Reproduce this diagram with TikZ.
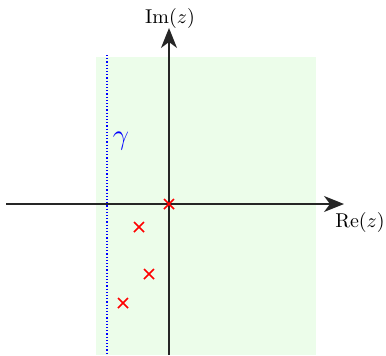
\documentclass[tikz,border=0pt]{standalone}
\usetikzlibrary{arrows.meta,calc}
\definecolor{regiongreen}{RGB}{236,253,234}
\tikzset{
  axis/.style={line width=0.7pt, draw=black!85, -{Stealth[length=10pt,width=8pt,inset=3pt]}},
  pole/.style={red, line width=0.8pt},
  contour/.style={blue, densely dotted, line width=0.6pt}
}
\newcommand{\polemark}[1]{\draw[pole] ($(#1)+(-5,-5)$) -- ($(#1)+(5,5)$) ($(#1)+(-5,5)$) -- ($(#1)+(5,-5)$);}
\begin{document}
\begin{tikzpicture}[x=0.5pt,y=-0.5pt]
\useasboundingbox (0,0) rectangle (386,355);
\fill[regiongreen] (96,57) rectangle (316,355);
\coordinate (xl) at (6,204);
\coordinate (xr) at (344,204);
\coordinate (yb) at (169,355);
\coordinate (yt) at (169,28);
\coordinate (gt) at (107,55);
\coordinate (gb) at (107,355);
\draw[contour] (gt) -- (gb);
\draw[axis] (xl) -- (xr);
\draw[axis] (yb) -- (yt);
\node (im) at (170,18) {$\mathrm{Im}(z)$};
\node (re) at (360,222) {$\mathrm{Re}(z)$};
\node[blue] (gamma) at (121,141) {\Large$\gamma$};
\coordinate (p0) at (169,204);
\coordinate (p1) at (139,227);
\coordinate (p2) at (149,274);
\coordinate (p3) at (123,303);
\foreach \p in {p0,p1,p2,p3} {\polemark{\p}}
\end{tikzpicture}
\end{document}
